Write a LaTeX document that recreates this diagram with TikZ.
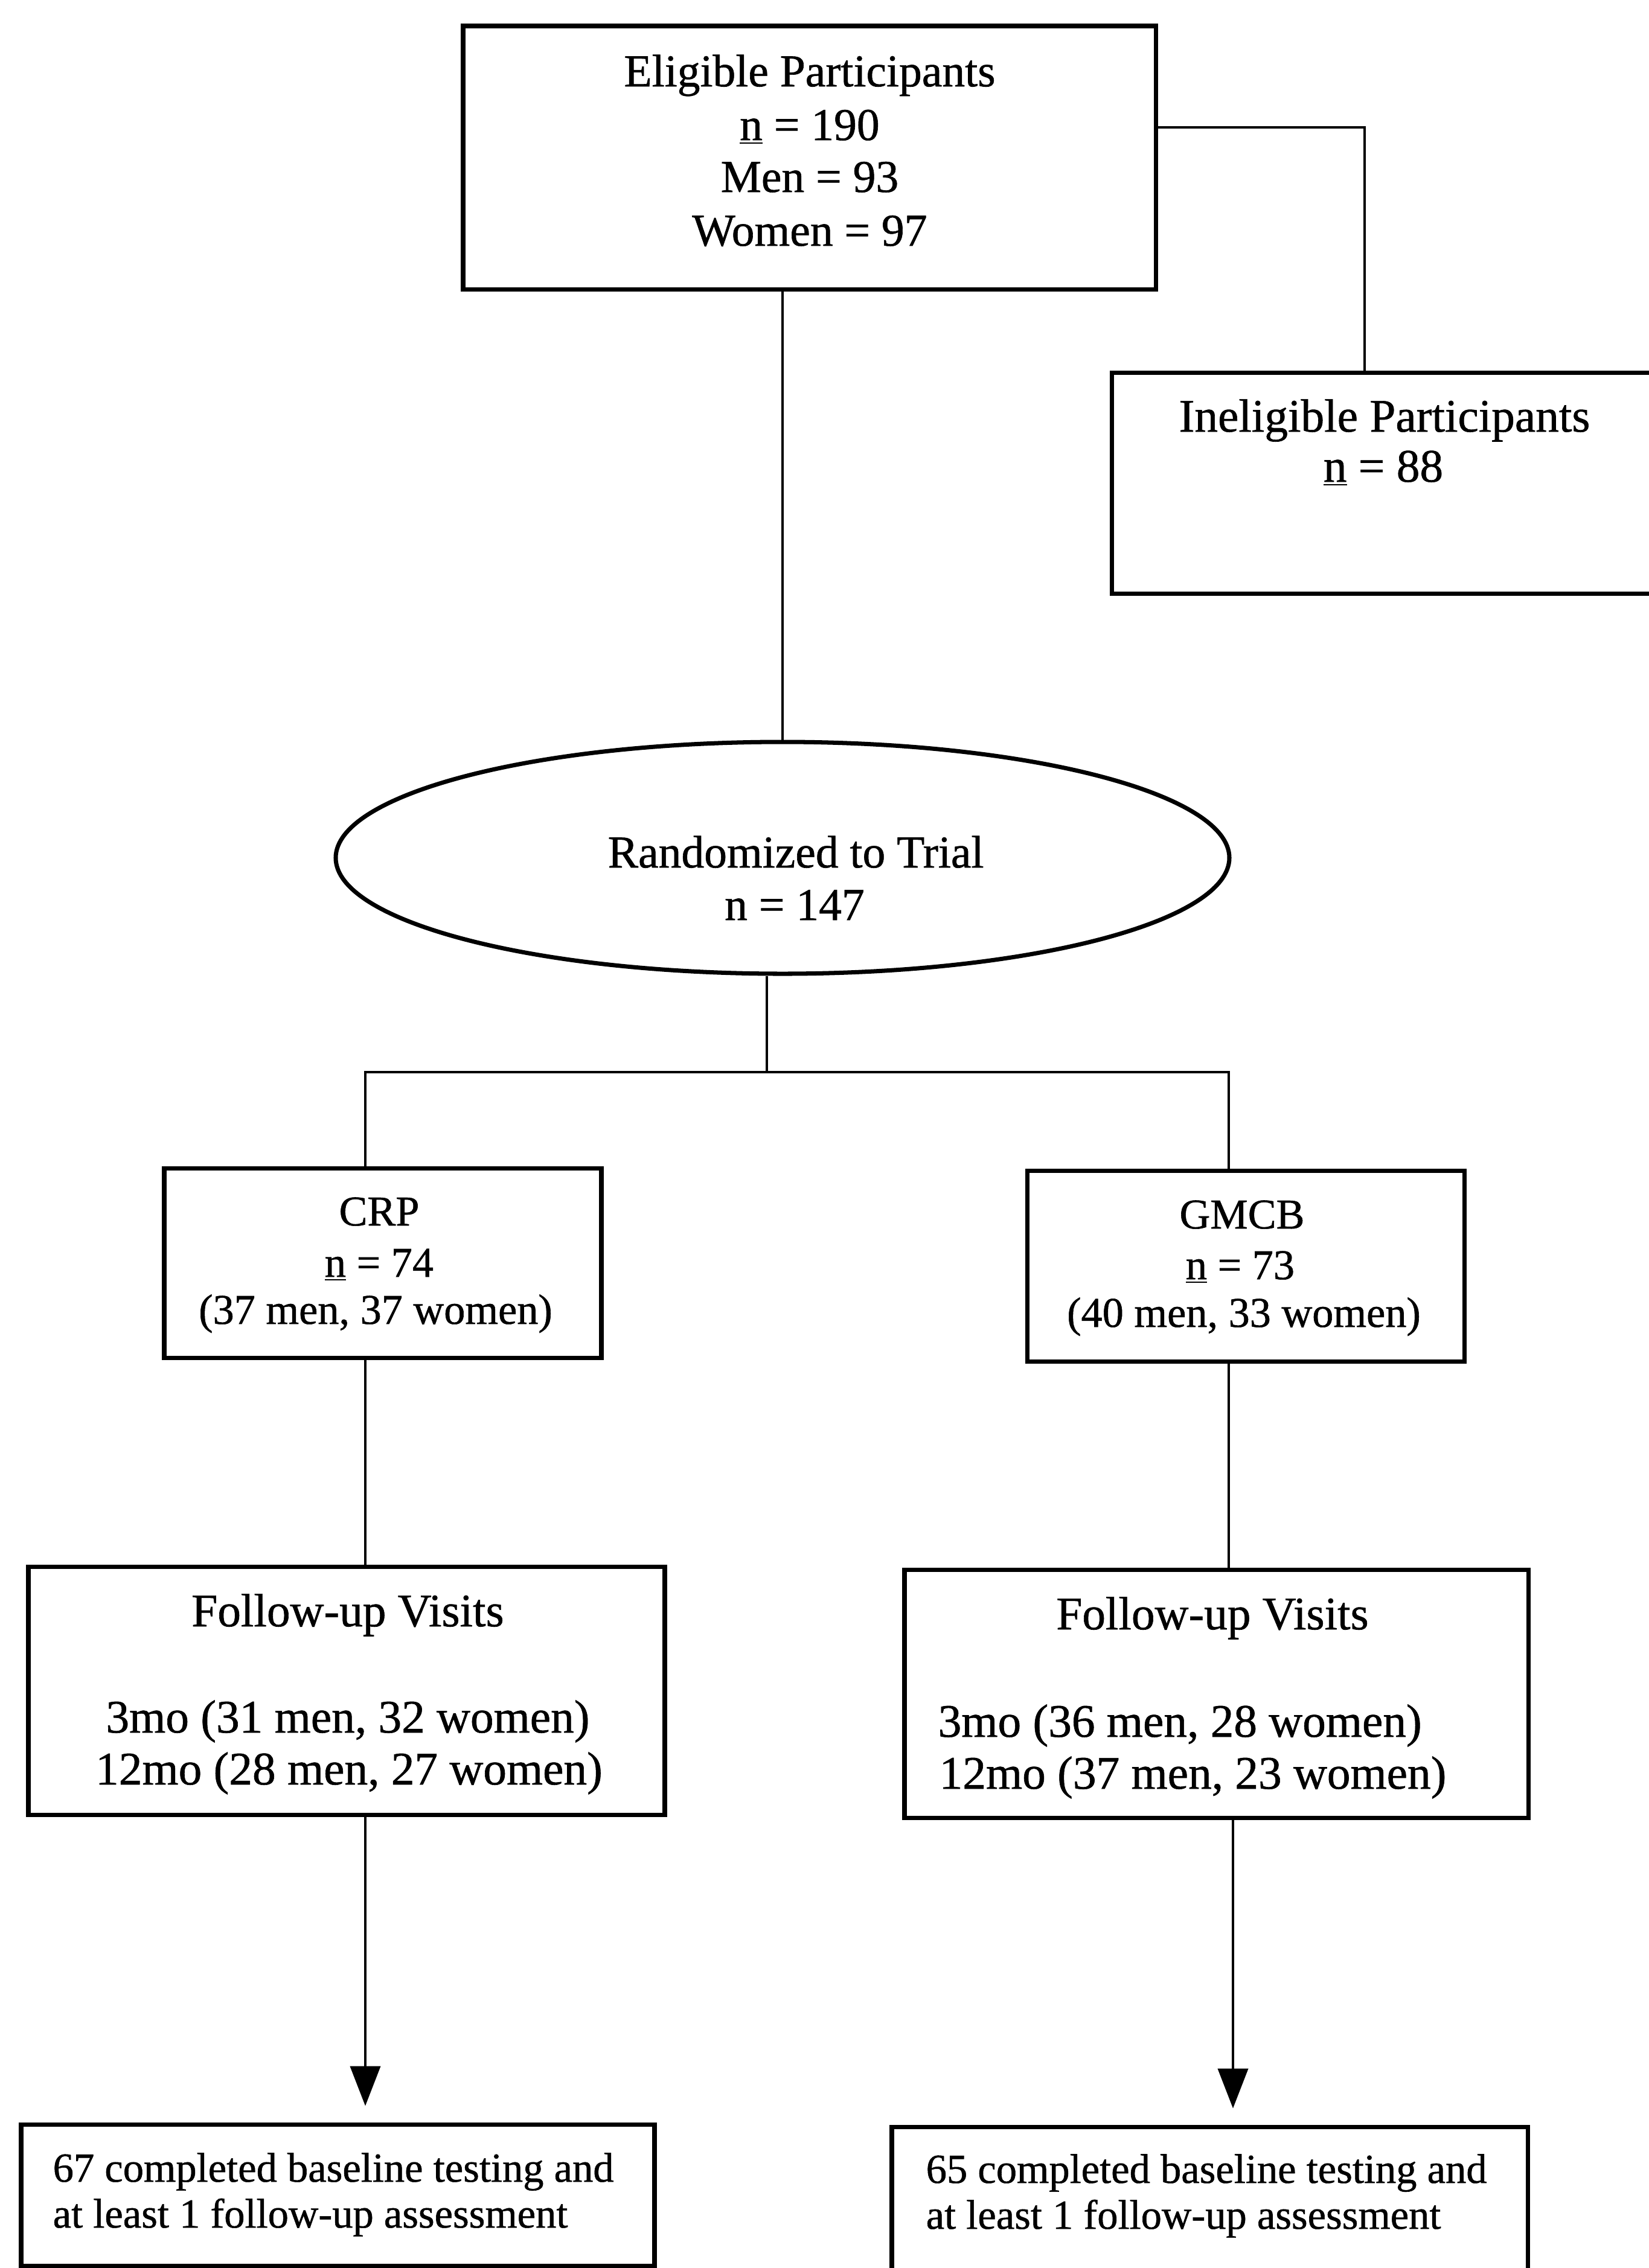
\documentclass[tikz,border=0pt]{standalone}
\usepackage{fontspec}
\setmainfont{Liberation Serif}[FakeBold=0.8]
\usetikzlibrary{arrows.meta,shapes.geometric}
\tikzset{
  box/.style={draw, line width=2pt, rectangle, inner sep=0pt},
  oval/.style={draw, line width=2pt, ellipse, inner sep=0pt},
  conn/.style={line width=1.2pt},
  arr/.style={conn, -{Triangle[width=0.5cm,length=0.66cm]}, shorten >=0.27cm},
  txt/.style={anchor=base, inner sep=0pt},
  txtl/.style={anchor=base west, inner sep=0pt},
  fA/.style={font=\fontsize{21.5}{25}\selectfont},
  fB/.style={font=\fontsize{22}{26}\selectfont},
  fC/.style={font=\fontsize{20}{24}\selectfont},
  fD/.style={font=\fontsize{19.5}{23}\selectfont},
}
\begin{document}
\begin{tikzpicture}
\clip (0,0) rectangle (27.31,-37.57);
\fill[white] (0,0) rectangle (27.31,-37.57);

% boxes
\node[box, minimum width=11.47cm, minimum height=4.36cm] (elig) at (13.405,-2.61) {};
\node[box, minimum width=9.39cm, minimum height=3.66cm] (inelig) at (23.105,-8.00) {};
\node[oval, minimum width=14.80cm, minimum height=3.84cm] (rand) at (12.96,-14.21) {};
\node[box, minimum width=7.24cm, minimum height=3.14cm] (crp) at (6.34,-20.92) {};
\node[box, minimum width=7.24cm, minimum height=3.16cm] (gmcb) at (20.63,-20.97) {};
\node[box, minimum width=10.54cm, minimum height=4.11cm] (fuL) at (5.74,-28.005) {};
\node[box, minimum width=10.33cm, minimum height=4.11cm] (fuR) at (20.145,-28.055) {};
\node[box, minimum width=10.49cm, minimum height=2.34cm] (botL) at (5.595,-36.36) {};
\node[box, minimum width=10.53cm, minimum height=2.67cm] (botR) at (20.035,-36.565) {};

% texts
\node[txt, fA] (e1) at (13.41,-1.43) {Eligible Participants};
\node[txt, fA] (e2) at (13.41,-2.32) {\underline{n} = 190};
\node[txt, fA] (e3) at (13.41,-3.18) {Men = 93};
\node[txt, fA] (e4) at (13.41,-4.07) {Women = 97};

\node[txt, fB] (i1) at (22.93,-7.15) {Ineligible Participants};
\node[txt, fB] (i2) at (22.91,-7.98) {\underline{n} = 88};

\node[txt, fA] (r1) at (13.18,-14.37) {Randomized to Trial};
\node[txt, fA] (r2) at (13.16,-15.24) {n = 147};

\node[txt, fC] (c1t) at (6.28,-20.30) {CRP};
\node[txt, fC] (c2t) at (6.28,-21.15) {\underline{n} = 74};
\node[txt, fC] (c3t) at (6.22,-21.93) {(37 men, 37 women)};

\node[txt, fC] (g1) at (20.57,-20.35) {GMCB};
\node[txt, fC] (g2) at (20.54,-21.19) {\underline{n} = 73};
\node[txt, fC] (g3) at (20.60,-21.98) {(40 men, 33 women)};

\node[txt, fB] (fl1) at (5.76,-26.94) {Follow-up Visits};
\node[txt, fB] (fl2) at (5.76,-28.70) {3mo (31 men, 32 women)};
\node[txt, fB] (fl3) at (5.78,-29.56) {12mo (28 men, 27 women)};

\node[txt, fB] (fr1) at (20.08,-26.99) {Follow-up Visits};
\node[txtl, fB] (fr2) at (15.53,-28.77) {3mo (36 men, 28 women)};
\node[txtl, fB] (fr3) at (15.55,-29.63) {12mo (37 men, 23 women)};

\node[txtl, fD] (bl1) at (0.87,-36.14) {67 completed baseline testing and};
\node[txtl, fD] (bl2) at (0.87,-36.90) {at least 1 follow-up assessment};

\node[txtl, fD] (br1) at (15.33,-36.16) {65 completed baseline testing and};
\node[txtl, fD] (br2) at (15.33,-36.92) {at least 1 follow-up assessment};

% connectors
\coordinate (bend) at (22.60,-2.11);
\coordinate (split) at (12.70,-17.76);
\coordinate (colL) at (6.05,0);
\coordinate (colR) at (20.35,0);
\coordinate (colR2) at (20.42,0);

\draw[conn] (elig.east |- bend) -- (bend) -- (bend |- inelig.north);
\draw[conn] (elig.south -| rand.north) -- (rand.north);
\draw[conn] (rand.south -| split) -- (split);
\draw[conn] (colL |- crp.north) |- (split) -| (colR |- gmcb.north);
\draw[conn] (colL |- crp.south) -- (colL |- fuL.north);
\draw[conn] (colR |- gmcb.south) -- (colR |- fuR.north);
\draw[arr] (colL |- fuL.south) -- (colL |- botL.north);
\draw[arr] (colR2 |- fuR.south) -- (colR2 |- botR.north);
\end{tikzpicture}
\end{document}
